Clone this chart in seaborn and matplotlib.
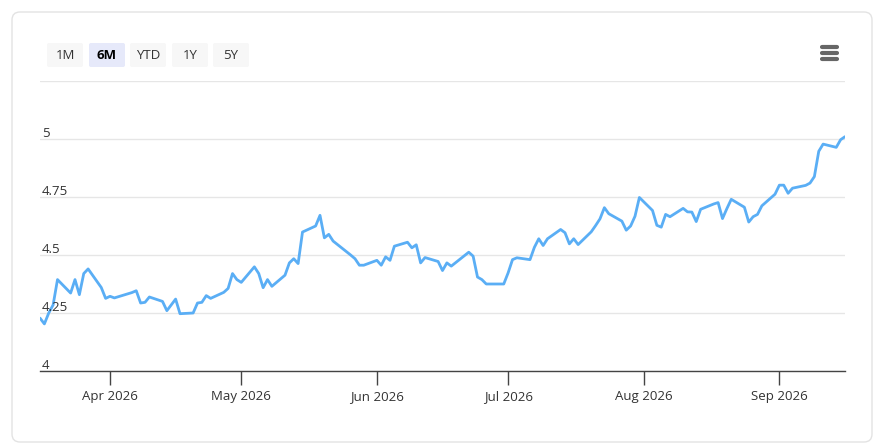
import pandas as pd
import numpy as np
import matplotlib
matplotlib.use('Agg')
import matplotlib.pyplot as plt
import matplotlib.dates as mdates
from matplotlib.patches import FancyBboxPatch
from matplotlib.transforms import offset_copy
import seaborn as sns

# Data
dates = [
    '2026-03-16', '2026-03-17', '2026-03-18', '2026-03-19', '2026-03-20',
    '2026-03-23', '2026-03-24', '2026-03-25', '2026-03-26', '2026-03-27',
    '2026-03-30', '2026-03-31', '2026-04-01', '2026-04-02', '2026-04-06',
    '2026-04-07', '2026-04-08', '2026-04-09', '2026-04-10', '2026-04-13',
    '2026-04-14', '2026-04-15', '2026-04-16', '2026-04-17', '2026-04-20',
    '2026-04-21', '2026-04-22', '2026-04-23', '2026-04-24', '2026-04-27',
    '2026-04-28', '2026-04-29', '2026-04-30', '2026-05-01', '2026-05-04',
    '2026-05-05', '2026-05-06', '2026-05-07', '2026-05-08', '2026-05-11',
    '2026-05-12', '2026-05-13', '2026-05-14', '2026-05-15', '2026-05-18',
    '2026-05-19', '2026-05-20', '2026-05-21', '2026-05-22', '2026-05-26',
    '2026-05-27', '2026-05-28', '2026-05-29', '2026-06-01', '2026-06-02',
    '2026-06-03', '2026-06-04', '2026-06-05', '2026-06-08', '2026-06-09',
    '2026-06-10', '2026-06-11', '2026-06-12', '2026-06-15', '2026-06-16',
    '2026-06-17', '2026-06-18', '2026-06-22', '2026-06-23', '2026-06-24',
    '2026-06-25', '2026-06-26', '2026-06-29', '2026-06-30', '2026-07-01',
    '2026-07-02', '2026-07-03', '2026-07-06', '2026-07-07', '2026-07-08',
    '2026-07-09', '2026-07-10', '2026-07-13', '2026-07-14', '2026-07-15',
    '2026-07-16', '2026-07-17', '2026-07-20', '2026-07-21', '2026-07-22',
    '2026-07-23', '2026-07-24', '2026-07-27', '2026-07-28', '2026-07-29',
    '2026-07-30', '2026-07-31', '2026-08-03', '2026-08-04', '2026-08-05',
    '2026-08-06', '2026-08-07', '2026-08-10', '2026-08-11', '2026-08-12',
    '2026-08-13', '2026-08-14', '2026-08-17', '2026-08-18', '2026-08-19',
    '2026-08-20', '2026-08-21', '2026-08-24', '2026-08-25', '2026-08-26',
    '2026-08-27', '2026-08-28', '2026-08-31', '2026-09-01', '2026-09-02',
    '2026-09-03', '2026-09-04', '2026-09-07', '2026-09-08', '2026-09-09',
    '2026-09-10', '2026-09-11', '2026-09-14', '2026-09-15', '2026-09-16',
]
values = [
    4.228, 4.203, 4.250, 4.285, 4.394,
    4.336, 4.394, 4.329, 4.420, 4.440,
    4.360, 4.313, 4.322, 4.315, 4.338,
    4.346, 4.293, 4.296, 4.319, 4.300,
    4.260, 4.285, 4.310, 4.247, 4.250,
    4.293, 4.296, 4.325, 4.313, 4.339,
    4.356, 4.420, 4.394, 4.382, 4.449,
    4.420, 4.359, 4.394, 4.365, 4.413,
    4.466, 4.484, 4.463, 4.599, 4.625,
    4.671, 4.574, 4.589, 4.560, 4.500,
    4.484, 4.456, 4.456, 4.477, 4.456,
    4.492, 4.477, 4.538, 4.555, 4.531,
    4.544, 4.466, 4.489, 4.472, 4.433,
    4.466, 4.452, 4.512, 4.495, 4.405,
    4.394, 4.375, 4.375, 4.375, 4.423,
    4.480, 4.488, 4.480, 4.533, 4.570,
    4.541, 4.570, 4.610, 4.596, 4.548,
    4.570, 4.545, 4.600, 4.627, 4.656,
    4.704, 4.678, 4.646, 4.607, 4.625,
    4.667, 4.748, 4.692, 4.628, 4.620,
    4.675, 4.665, 4.701, 4.686, 4.685,
    4.644, 4.697, 4.720, 4.726, 4.657,
    4.700, 4.740, 4.706, 4.642, 4.665,
    4.675, 4.712, 4.762, 4.801, 4.801,
    4.766, 4.788, 4.800, 4.810, 4.838,
    4.947, 4.978, 4.964, 4.997, 5.010,
]
y_ticks = [4, 4.25, 4.5, 4.75, 5, 5.25]
y_labels = ['4', '4.25', '4.5', '4.75', '5', '']
buttons = ['1M', '6M', 'YTD', '1Y', '5Y']
selected = '6M'

df = pd.DataFrame({'date': pd.to_datetime(dates), 'value': values})

sns.set_theme(style='white')
plt.rcParams['font.family'] = ['Open Sans', 'DejaVu Sans']

W, H = 884, 447
fig = plt.figure(figsize=(W / 100, H / 100), dpi=100)
fig.patch.set_facecolor('white')

# overlay in pixel coordinates for card, buttons and menu icon
bg = fig.add_axes([0, 0, 1, 1], zorder=0)
bg.set_xlim(0, W)
bg.set_ylim(H, 0)
bg.axis('off')
bg.add_patch(FancyBboxPatch((12, 12), 860, 430, boxstyle='round,pad=0,rounding_size=8',
                            facecolor='white', edgecolor='#e3e3e3', linewidth=1))
bx = [47, 89, 130, 172, 213]
bw = [36, 36, 36, 36, 36]
for lbl, x0, w in zip(buttons, bx, bw):
    sel = lbl == selected
    bg.add_patch(FancyBboxPatch((x0, 43), w, 24, boxstyle='round,pad=0,rounding_size=2',
                                facecolor='#e6e9fa' if sel else '#f7f7f7', edgecolor='none'))
    bg.text(x0 + w / 2, 55.5, lbl, ha='center', va='center', fontsize=9.5,
            color='black' if sel else '#333333', fontweight='bold' if sel else 'normal')
for yy in [47, 53, 59]:
    bg.plot([822, 837], [yy, yy], color='#666666', lw=3, solid_capstyle='round')

# main chart
left, right, top, bottom = 40, 845, 81, 371
ax = fig.add_axes([left / W, 1 - bottom / H, (right - left) / W, (bottom - top) / H], zorder=1)
ax.patch.set_alpha(0)
sns.lineplot(data=df, x='date', y='value', ax=ax, color='#5aaef5', linewidth=2)

ax.set_xlim(df['date'].min(), df['date'].max())
ax.set_ylim(4, 5.25)
ax.set_yticks(y_ticks)
ax.set_yticklabels([])
ax.tick_params(axis='y', length=0)
ax.grid(axis='y', color='#e6e6e6', linewidth=1)
ax.set_axisbelow(True)
lab_tr = offset_copy(ax.get_yaxis_transform(), fig=fig, x=1.2, y=-0.6, units='points')
for lbl, yv in zip(y_labels, y_ticks):
    ax.text(0, yv, lbl, transform=lab_tr, ha='left', va='bottom',
            fontsize=9.5, color='#333333')

ax.xaxis.set_major_locator(mdates.MonthLocator())
ax.xaxis.set_major_formatter(mdates.DateFormatter('%b %Y'))
ax.tick_params(axis='x', bottom=True, length=10, width=1, color='#444444', labelsize=9.5,
               labelcolor='#333333', pad=4, direction='out')
ax.set_xlabel('')
ax.set_ylabel('')
for s in ['top', 'right', 'left']:
    ax.spines[s].set_visible(False)
ax.spines['bottom'].set_color('#444444')
ax.spines['bottom'].set_linewidth(1)

fig.savefig('out.png', dpi=100, facecolor='white')
